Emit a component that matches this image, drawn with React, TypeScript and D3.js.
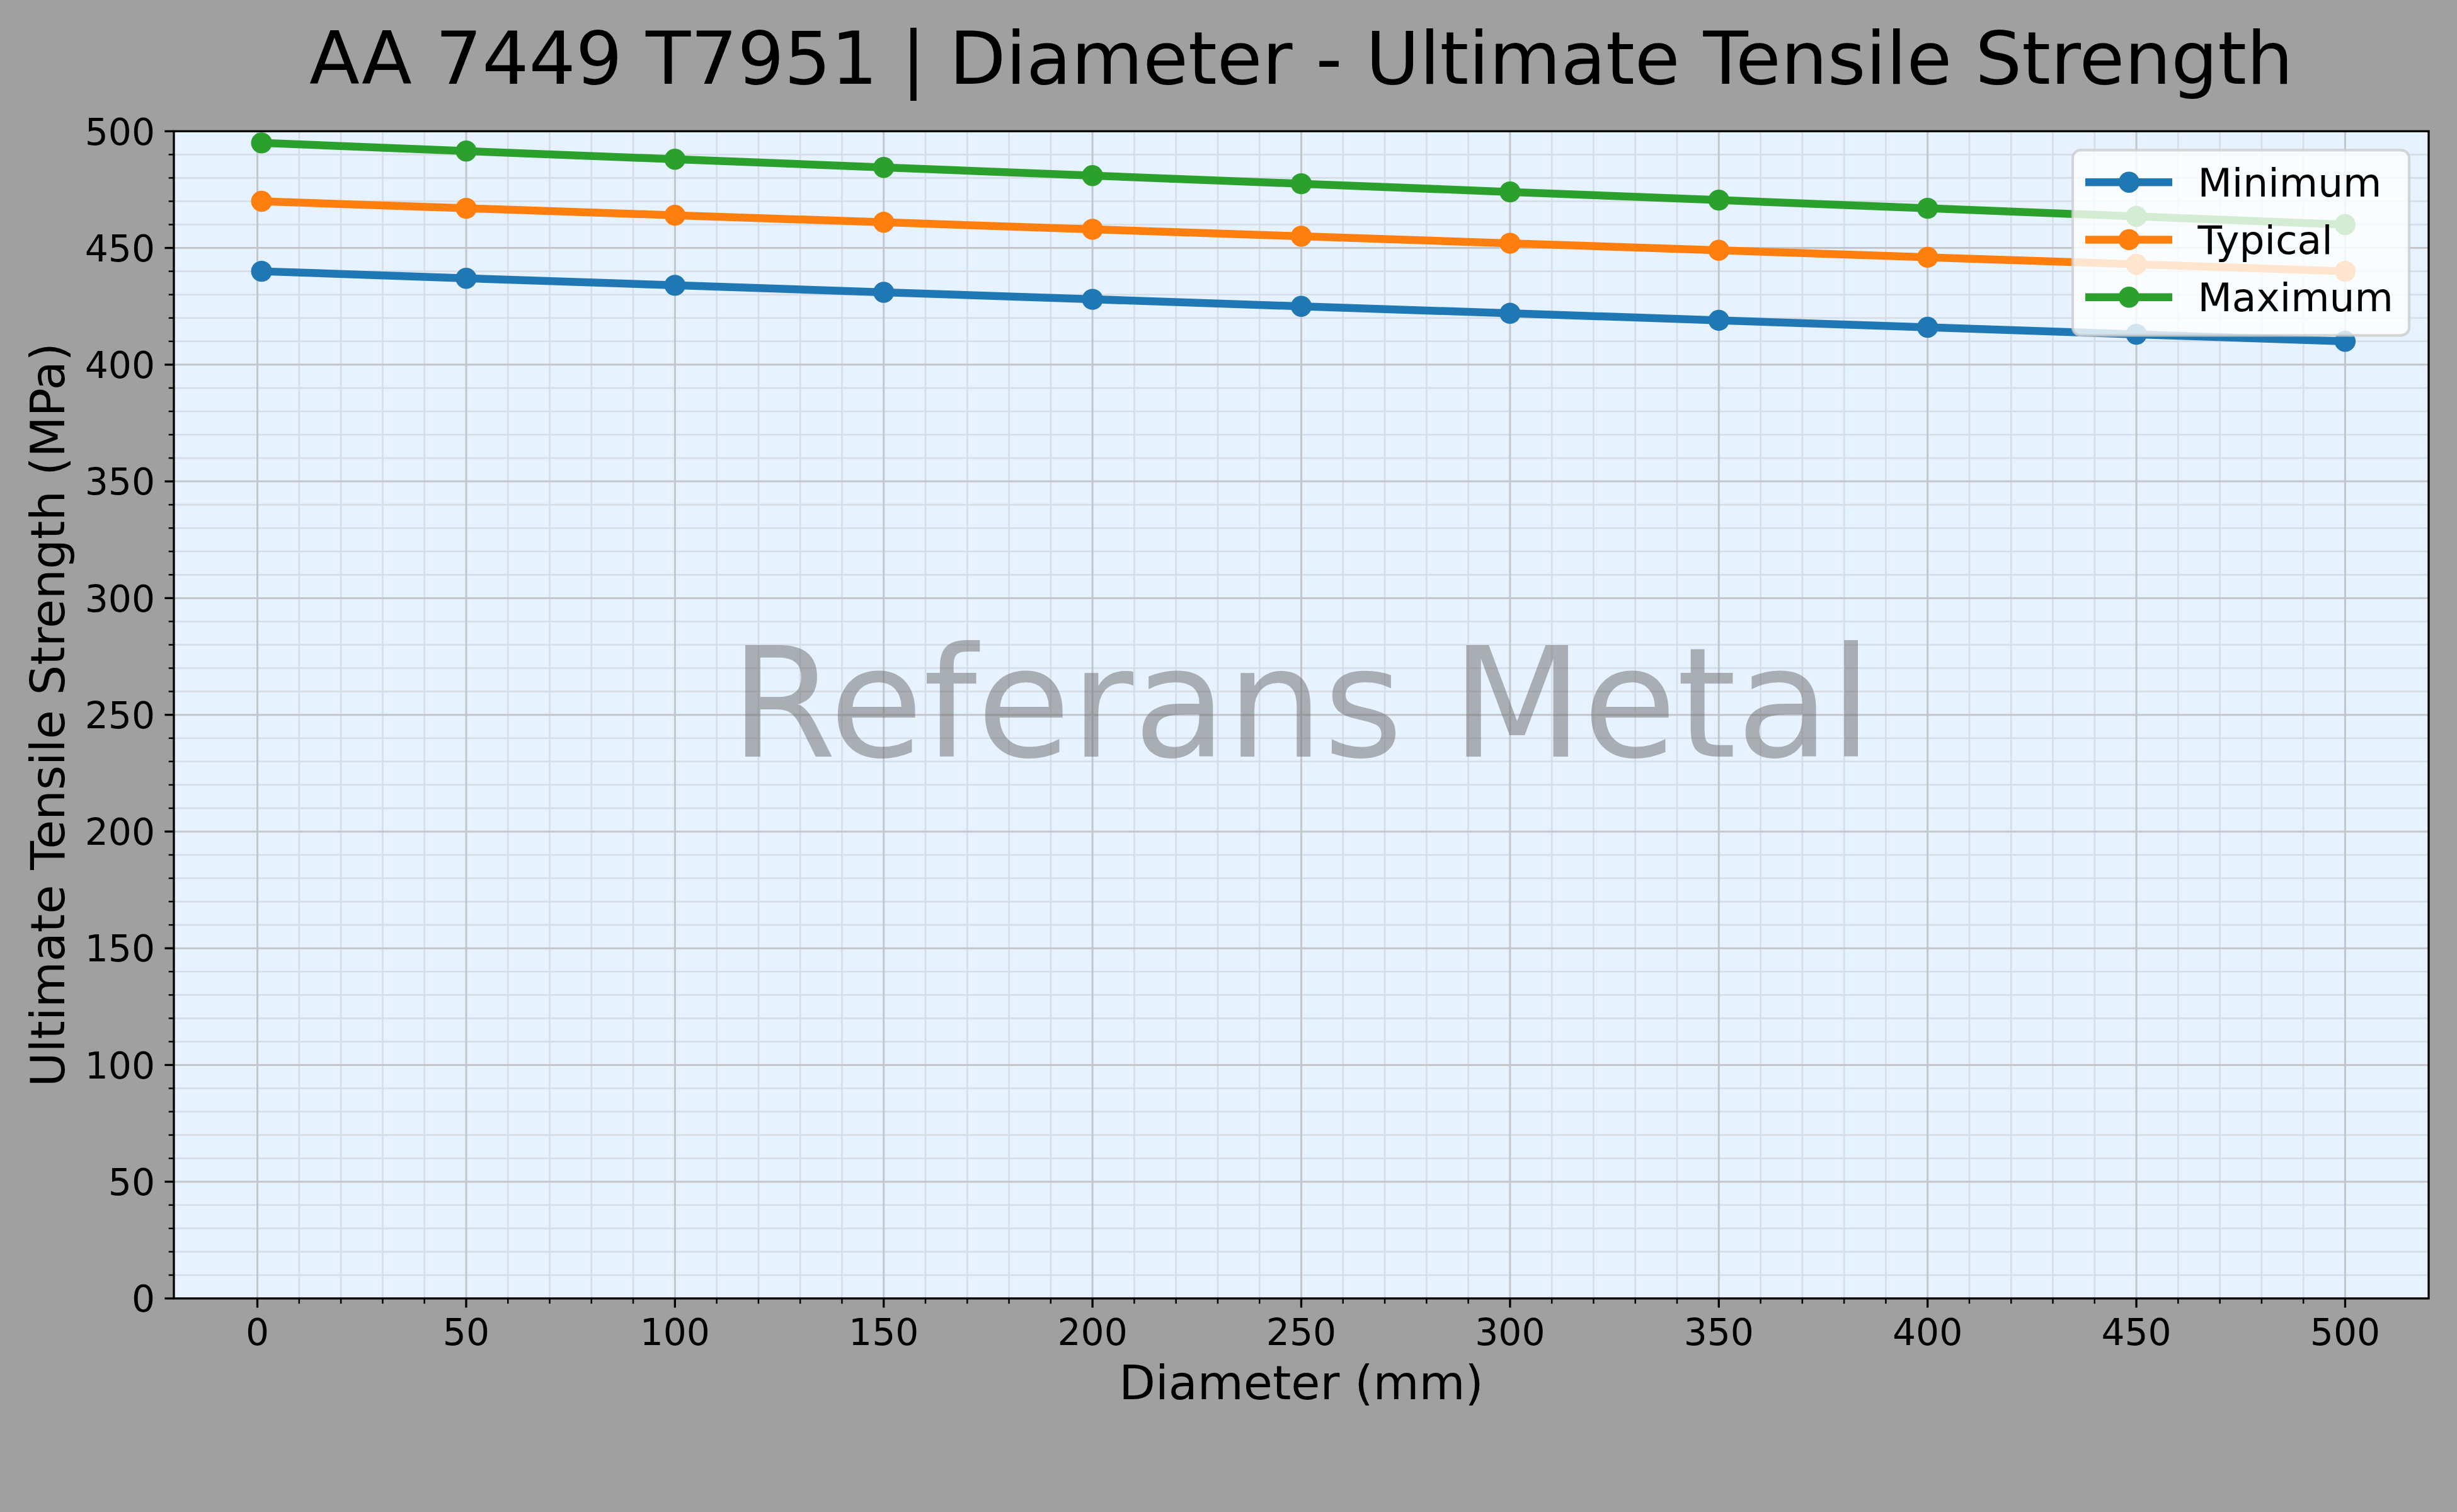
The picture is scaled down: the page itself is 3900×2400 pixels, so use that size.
import React from "react";
import * as d3 from "d3";

const diameters = [1, 50, 100, 150, 200, 250, 300, 350, 400, 450, 500];
const minimumValues = [440, 437, 434, 431, 428, 425, 422, 419, 416, 413, 410];
const typicalValues = [470, 467, 464, 461, 458, 455, 452, 449, 446, 443, 440];
const maximumValues = [495, 491.5, 488, 484.5, 481, 477.5, 474, 470.5, 467, 463.5, 460];
const seriesNames = ["Minimum", "Typical", "Maximum"];
const seriesColors = ["#1f77b4", "#ff7f0e", "#2ca02c"];
const xMajorTicks = [0, 50, 100, 150, 200, 250, 300, 350, 400, 450, 500];
const yMajorTicks = [0, 50, 100, 150, 200, 250, 300, 350, 400, 450, 500];
const titleText = "AA 7449 T7951 | Diameter - Ultimate Tensile Strength";
const xLabelText = "Diameter (mm)";
const yLabelText = "Ultimate Tensile Strength (MPa)";
const watermarkText = "Referans Metal";

const W = 3900;
const H = 2400;
const L = 276;
const R = 3855;
const T = 208.3;
const B = 2061;
const FONT = "'DejaVu Sans', sans-serif";

export default function App() {
  const x = d3.scaleLinear().domain([-20, 520]).range([L, R]);
  const y = d3.scaleLinear().domain([0, 500]).range([B, T]);
  const xMinor = d3.range(0, 501, 10).filter((v) => v % 50 !== 0);
  const yMinor = d3.range(0, 501, 10).filter((v) => v % 50 !== 0);
  const allSeries = [minimumValues, typicalValues, maximumValues];
  const line = d3
    .line<number>()
    .x((_, i) => x(diameters[i]))
    .y((v) => y(v));
  const cx = (L + R) / 2;
  const cy = (T + B) / 2;

  const legX = 3290;
  const legY = 238.3;
  const legW = 534;
  const legH = 294;
  const rowY = [289.3, 380.4, 471.7];

  return (
    <svg
      width={W}
      height={H}
      style={{ position: "absolute", left: 0, top: 0, display: "block" }}
      fontFamily={FONT}
    >
      <rect x={0} y={0} width={W} height={H} fill="#a0a0a0" />
      <rect x={L} y={T} width={R - L} height={B - T} fill="#e6f2ff" />
      <defs>
        <clipPath id="plotclip">
          <rect x={L} y={T} width={R - L} height={B - T} />
        </clipPath>
      </defs>
      <g clipPath="url(#plotclip)">
        {xMinor.map((v) => (
          <line key={"xm" + v} x1={x(v)} x2={x(v)} y1={T} y2={B} stroke="#d6dde6" strokeWidth={2.6} />
        ))}
        {yMinor.map((v) => (
          <line key={"ym" + v} x1={L} x2={R} y1={y(v)} y2={y(v)} stroke="#d6dde6" strokeWidth={2.6} />
        ))}
        {xMajorTicks.map((v) => (
          <line key={"xg" + v} x1={x(v)} x2={x(v)} y1={T} y2={B} stroke="#c3c6ca" strokeWidth={3} />
        ))}
        {yMajorTicks.map((v) => (
          <line key={"yg" + v} x1={L} x2={R} y1={y(v)} y2={y(v)} stroke="#c3c6ca" strokeWidth={3} />
        ))}
        {allSeries.map((vals, si) => (
          <g key={"s" + si}>
            <path d={line(vals) || ""} fill="none" stroke={seriesColors[si]} strokeWidth={12.5} strokeLinejoin="round" strokeLinecap="butt" />
            {vals.map((v, i) => (
              <circle key={i} cx={x(diameters[i])} cy={y(v)} r={16.7} fill={seriesColors[si]} />
            ))}
          </g>
        ))}
        <text
          x={cx}
          y={1200.7}
          textAnchor="middle"
          fontSize={242}
          fill="#696969"
          fillOpacity={0.5}
        >
          {watermarkText}
        </text>
      </g>
      {/* spines */}
      <rect x={L} y={T} width={R - L} height={B - T} fill="none" stroke="#000" strokeWidth={3.3} />
      {/* x ticks */}
      {xMajorTicks.map((v) => (
        <g key={"xt" + v}>
          <line x1={x(v)} x2={x(v)} y1={B} y2={B + 14.6} stroke="#000" strokeWidth={3.3} />
          <text x={x(v)} y={2135} textAnchor="middle" fontSize={58.3} fill="#000">
            {v}
          </text>
        </g>
      ))}
      {xMinor.map((v) => (
        <line key={"xmt" + v} x1={x(v)} x2={x(v)} y1={B} y2={B + 8.3} stroke="#000" strokeWidth={2.5} />
      ))}
      {/* y ticks */}
      {yMajorTicks.map((v) => (
        <g key={"yt" + v}>
          <line x1={L - 14.6} x2={L} y1={y(v)} y2={y(v)} stroke="#000" strokeWidth={3.3} />
          <text x={246} y={y(v) + 21.2} textAnchor="end" fontSize={58.3} fill="#000">
            {v}
          </text>
        </g>
      ))}
      {yMinor.map((v) => (
        <line key={"ymt" + v} x1={L - 8.3} x2={L} y1={y(v)} y2={y(v)} stroke="#000" strokeWidth={2.5} />
      ))}
      {/* labels */}
      <text x={cx} y={132.7} textAnchor="middle" fontSize={116.7} fill="#000">
        {titleText}
      </text>
      <text x={cx} y={2220.7} textAnchor="middle" fontSize={75} fill="#000">
        {xLabelText}
      </text>
      <text
        transform={`translate(101.7, ${cy}) rotate(-90)`}
        textAnchor="middle"
        fontSize={75}
        fill="#000"
      >
        {yLabelText}
      </text>
      {/* legend */}
      <rect
        x={legX}
        y={legY}
        width={legW}
        height={legH}
        rx={12.6}
        ry={12.6}
        fill="#ffffff"
        fillOpacity={0.8}
        stroke="#cccccc"
        strokeOpacity={0.8}
        strokeWidth={4.2}
      />
      {seriesNames.map((name, i) => (
        <g key={"lg" + i}>
          <line x1={3310} x2={3448} y1={rowY[i]} y2={rowY[i]} stroke={seriesColors[i]} strokeWidth={12.5} />
          <circle cx={3379.4} cy={rowY[i]} r={16.7} fill={seriesColors[i]} />
          <text x={3488.5} y={rowY[i] + 22.6} fontSize={63} fill="#000">
            {name}
          </text>
        </g>
      ))}
    </svg>
  );
}
